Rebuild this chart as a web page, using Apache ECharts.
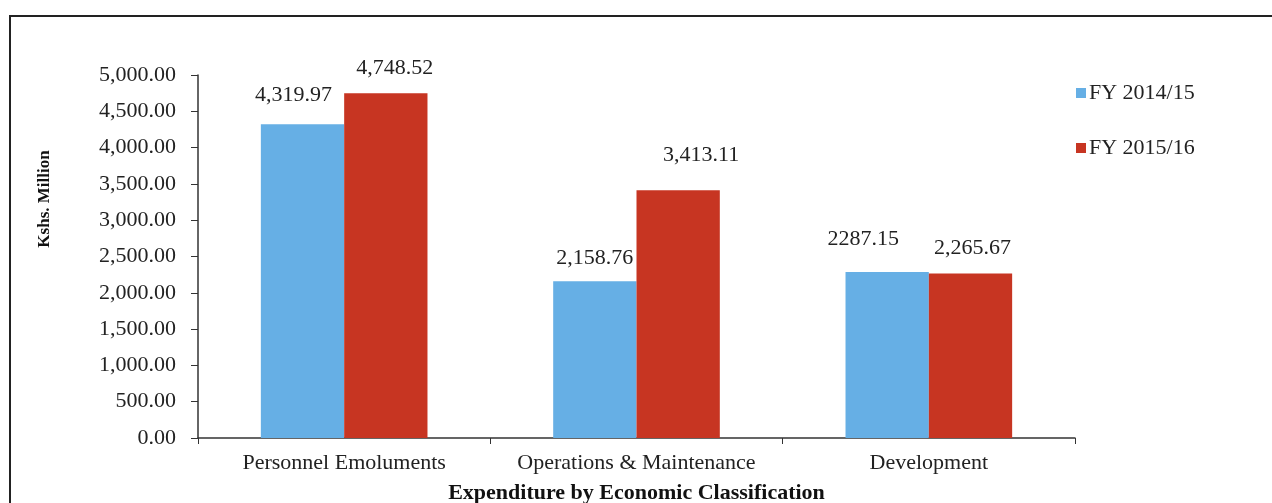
<!DOCTYPE html>
<html>
<head>
<meta charset="utf-8">
<script src="https://cdn.jsdelivr.net/npm/echarts@6/dist/echarts.min.js"></script>
<style>
  html, body { margin: 0; padding: 0; background: #fff; }
  #box { width: 1272px; height: 503px; }
</style>
</head>
<body>
<div id="box"></div>
<script>
var categories = ["Personnel Emoluments", "Operations & Maintenance", "Development"];
var fy1415 = [4319.97, 2158.76, 2287.15];
var fy1516 = [4748.52, 3413.11, 2265.67];
// labels as printed on the chart (one has no thousands comma)
var fy1415Labels = ["4,319.97", "2,158.76", "2287.15"];
var fy1516Labels = ["4,748.52", "3,413.11", "2,265.67"];
var yTicks = { min: 0, max: 5000, interval: 500 };

var font = "'Liberation Serif', 'Times New Roman', serif";
var chart = echarts.init(document.getElementById("box"));

function fmt(v) {
  return v.toFixed(2).replace(/\B(?=(\d{3})+(?!\d))/g, ",");
}

// small label nudges, as in the original
var blueOffsets = [[-9, -6], [0, 0], [-24, -10]];
var redOffsets = [[9, -2], [23, -12], [2, -2]];

function makeData(values, offsets) {
  return values.map(function (v, i) {
    return { value: v, label: { offset: offsets[i] } };
  });
}

var option = {
  backgroundColor: "#fff",
  animation: false,
  graphic: [
    {
      type: "rect",
      shape: { x: 10, y: 16, width: 1275, height: 500 },
      style: { fill: "none", stroke: "#222", lineWidth: 2 },
    },
    {
      type: "text",
      x: 45,
      y: 199,
      rotation: Math.PI / 2,
      style: {
        text: "Kshs. Million",
        fontFamily: font,
        fontSize: 17,
        fontWeight: "bold",
        fill: "#111",
        align: "center",
        verticalAlign: "middle",
      },
    },
  ],
  legend: {
    orient: "vertical",
    left: 1071,
    top: 77,
    itemGap: 33,
    itemWidth: 10,
    itemHeight: 10,
    icon: "rect",
    textStyle: { fontFamily: font, fontSize: 22, color: "#222", padding: [0, 0, 0, -2] },
    data: ["FY 2014/15", "FY 2015/16"],
  },
  grid: { left: 198, right: 197, top: 75, bottom: 65, outerBoundsMode: "none", containLabel: false },
  xAxis: {
    type: "category",
    data: categories,
    name: "Expenditure by Economic Classification",
    nameLocation: "middle",
    nameGap: 44,
    nameTextStyle: { fontFamily: font, fontSize: 22, fontWeight: "bold", color: "#111" },
    axisLine: { lineStyle: { color: "#333", width: 1.5 } },
    axisTick: { show: true, interval: 0, length: 6, lineStyle: { color: "#333" } },
    axisLabel: { interval: 0, fontFamily: font, fontSize: 22, color: "#222", margin: 14 },
  },
  yAxis: {
    type: "value",
    min: yTicks.min,
    max: yTicks.max,
    interval: yTicks.interval,
    splitLine: { show: false },
    axisLine: { show: true, lineStyle: { color: "#333", width: 1.5 } },
    axisTick: { show: true, length: 7, lineStyle: { color: "#333" } },
    axisLabel: {
      fontFamily: font,
      fontSize: 22,
      color: "#222",
      margin: 22,
      formatter: function (v) { return fmt(v); },
    },
  },
  series: [
    {
      name: "FY 2014/15",
      type: "bar",
      data: makeData(fy1415, blueOffsets),
      barGap: "0%",
      barCategoryGap: "43%",
      itemStyle: { color: "#66afe5" },
      label: {
        show: true,
        position: "top",
        distance: 12,
        fontFamily: font,
        fontSize: 22,
        color: "#222",
        formatter: function (p) { return fy1415Labels[p.dataIndex]; },
      },
    },
    {
      name: "FY 2015/16",
      type: "bar",
      data: makeData(fy1516, redOffsets),
      itemStyle: { color: "#c73522" },
      label: {
        show: true,
        position: "top",
        distance: 12,
        fontFamily: font,
        fontSize: 22,
        color: "#222",
        formatter: function (p) { return fy1516Labels[p.dataIndex]; },
      },
    },
  ],
};
chart.setOption(option);
</script>
</body>
</html>
